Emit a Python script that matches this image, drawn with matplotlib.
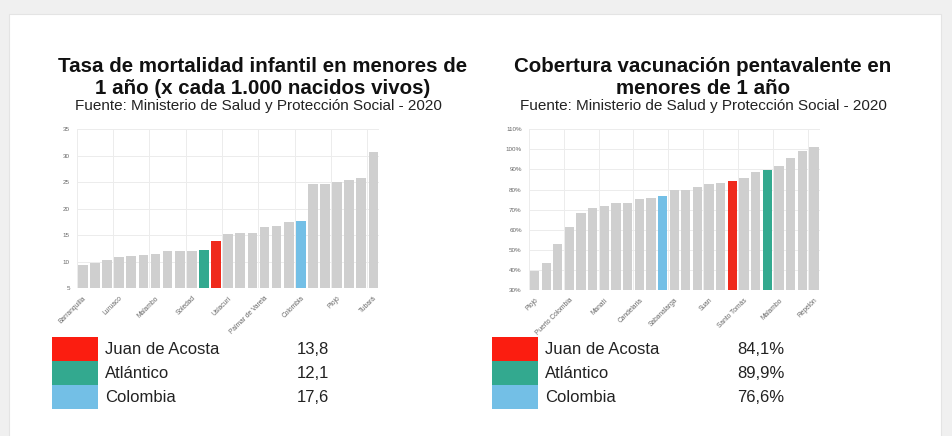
import matplotlib
matplotlib.use("Agg")
import matplotlib.pyplot as plt
from matplotlib.patches import Rectangle

plt.rcParams['font.family'] = ['Liberation Sans', 'DejaVu Sans']

# --- data -------------------------------------------------------------
# mortalidad infantil (x 1.000 nacidos vivos), ordenado de menor a mayor
mort_names = ["Barranquilla", "", "", "Luruaco", "", "", "Malambo", "", "",
              "Soledad", "Atlántico", "Juan de Acosta", "Usiacurí", "", "",
              "Palmar de Varela", "", "", "Colombia", "", "", "Piojó", "", "",
              "Tubará"]
mort_values = [9.4, 9.7, 10.2, 10.8, 11.1, 11.3, 11.5, 11.9, 12.0, 12.0,
               12.1, 13.8, 15.2, 15.4, 15.4, 16.6, 16.7, 17.5, 17.6, 24.7,
               24.7, 25.0, 25.4, 25.7, 30.7]

# cobertura pentavalente (%), ordenado de menor a mayor
vac_names = ["Piojó", "", "", "Puerto Colombia", "", "", "Manatí", "", "",
             "Candelaria", "", "Colombia", "Sabanalarga", "", "", "Suan", "",
             "Juan de Acosta", "Santo Tomás", "", "Atlántico", "Malambo", "",
             "", "Repelón"]
vac_values = [39.6, 43.4, 52.8, 61.5, 68.2, 71.0, 71.8, 73.1, 73.4, 75.4,
              75.7, 76.6, 79.8, 79.8, 81.2, 82.8, 83.2, 84.1, 86.0, 88.6,
              89.9, 91.9, 95.7, 99.2, 101.3]

legend_names = ["Juan de Acosta", "Atlántico", "Colombia"]
mort_legend = ["13,8", "12,1", "17,6"]
vac_legend = ["84,1%", "89,9%", "76,6%"]

GRAY = "#cfcfcf"
HIGHLIGHT = {"Juan de Acosta": "#ef2a1c", "Atlántico": "#33a98f", "Colombia": "#73bfe6"}
LEGEND_COLORS = ["#fb1d10", "#33a98f", "#73bfe6"]

fig = plt.figure(figsize=(9.53, 4.36), dpi=100)
fig.patch.set_facecolor("#f0f0f0")

# white card behind everything, in pixel coordinates
bg = fig.add_axes([0, 0, 1, 1], zorder=-5)
bg.set_xlim(0, 953)
bg.set_ylim(436, 0)
bg.axis("off")
bg.add_patch(Rectangle((9, 14), 932, 430, facecolor="white", edgecolor="#e4e4e4", lw=0.8))


def bar_panel(rect, names, values, ylim, yticks, ylabels):
    ax = fig.add_axes(rect)
    colors = [HIGHLIGHT.get(n, GRAY) for n in names]
    x = range(len(values))
    ax.bar(x, [v - ylim[0] for v in values], bottom=ylim[0], width=0.8,
           color=colors, zorder=3)
    ax.set_xlim(-0.5, len(values) - 0.5)
    ax.set_ylim(*ylim)
    ax.set_yticks(yticks)
    ax.set_yticklabels(ylabels, fontsize=4.5, color="#666666")
    ticks = list(range(0, len(values), 3))
    ax.set_xticks(ticks)
    ax.set_xticklabels([names[i] for i in ticks], rotation=45, ha="right",
                       rotation_mode="anchor", fontsize=4.8, color="#666666")
    ax.tick_params(length=0, pad=5)
    for t in ticks:
        ax.axvline(t - 0.5, color="#ececec", lw=0.7, zorder=0)
    ax.yaxis.grid(True, color="#ececec", lw=0.7, zorder=0)
    for s in ax.spines.values():
        s.set_visible(False)
    ax.set_facecolor("none")
    return ax


bar_panel([76.8 / 953, 1 - 288 / 436, 302.7 / 953, 159 / 436],
          mort_names, mort_values, (5, 35), range(5, 36, 5),
          [str(v) for v in range(5, 36, 5)])
bar_panel([528.7 / 953, 1 - 290 / 436, 291 / 953, 160.7 / 436],
          vac_names, vac_values, (30, 110), range(30, 111, 10),
          ["%d%%" % v for v in range(30, 111, 10)])

# titles
TITLE = dict(ha="center", va="center", fontsize=14.8, fontweight="bold", color="#111111")
SRC = dict(ha="center", va="center", fontsize=11, color="#222222")
bg.text(263, 67, "Tasa de mortalidad infantil en menores de", **TITLE)
bg.text(263, 88, "1 año (x cada 1.000 nacidos vivos)", **TITLE)
bg.text(258, 106, "Fuente: Ministerio de Salud y Protección Social - 2020", **SRC)
bg.text(703, 67, "Cobertura vacunación pentavalente en", **TITLE)
bg.text(703, 88, "menores de 1 año", **TITLE)
bg.text(703, 106, "Fuente: Ministerio de Salud y Protección Social - 2020", **SRC)

# legends
for x0, vals in [(52, mort_legend), (492, vac_legend)]:
    for i, (name, val) in enumerate(zip(legend_names, vals)):
        y0 = 337 + i * 24
        bg.add_patch(Rectangle((x0, y0), 46, 24, facecolor=LEGEND_COLORS[i],
                               edgecolor="none"))
        bg.text(x0 + 53, y0 + 12, name, ha="left", va="center",
                fontsize=12, color="#222222")
        bg.text(x0 + 245, y0 + 12, val, ha="left", va="center",
                fontsize=12, color="#222222")

fig.savefig("out.png", dpi=100, facecolor=fig.get_facecolor())
